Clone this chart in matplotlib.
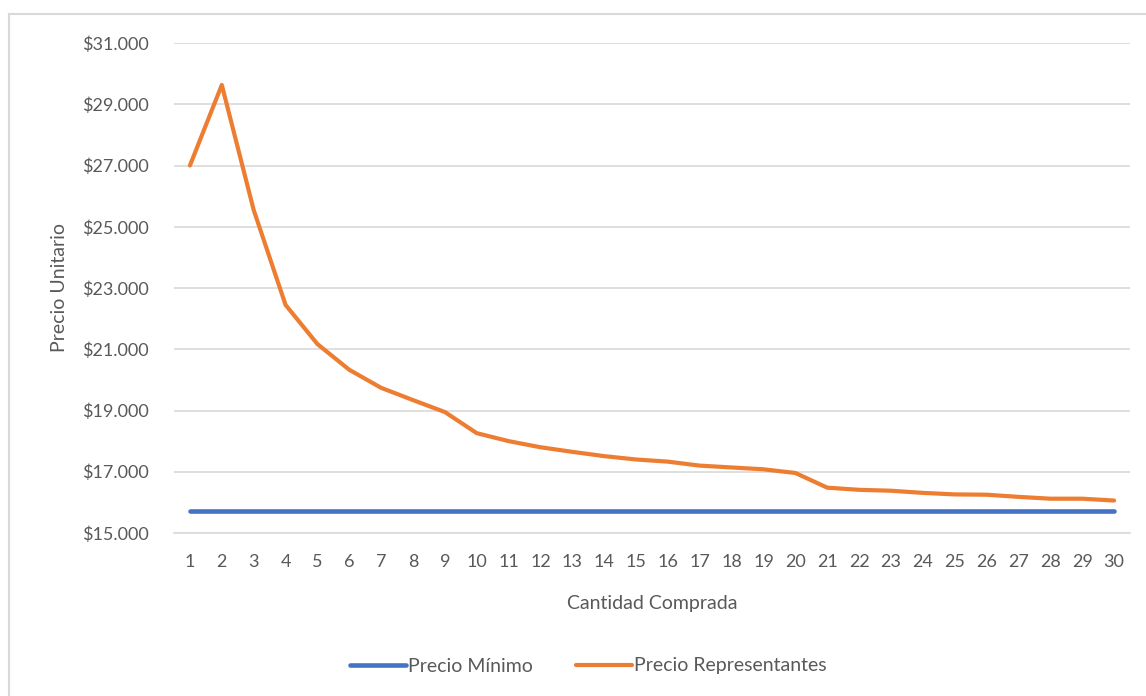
import matplotlib
matplotlib.use('Agg')
import matplotlib.pyplot as plt
from matplotlib.lines import Line2D
from matplotlib.ticker import FuncFormatter
import numpy as np

# data
cantidad = list(range(1, 31))
precio_minimo = [15720] * 30
precio_representantes = [27000, 29630, 25550, 22450, 21170, 20330, 19740, 19340, 18950, 18260,
                         18000, 17800, 17650, 17510, 17400, 17330, 17200, 17140, 17080, 16960,
                         16480, 16410, 16380, 16310, 16260, 16250, 16180, 16120, 16120, 16060]
y_ticks = list(range(15000, 31001, 2000))

plt.rcParams['font.family'] = ['Lato', 'DejaVu Sans']
gray = '#595959'

fig = plt.figure(figsize=(11.46, 6.96), dpi=100)
ax = fig.add_axes([174/1146, 1 - 533/696, (1130-174)/1146, (533-43)/696])

# chart area border (only top and left visible in the reference)
x0, y0 = 9/1146, 1 - 14/696
fig.lines.append(Line2D([x0, 1.0], [y0, y0], transform=fig.transFigure, color='#D9D9D9', linewidth=1.5))
fig.lines.append(Line2D([x0, x0], [0, y0], transform=fig.transFigure, color='#D9D9D9', linewidth=1.5))

ax.plot(cantidad, precio_minimo, color='#4472C4', linewidth=3.3, solid_capstyle='round',
        label='Precio Mínimo', zorder=3)
ax.plot(cantidad, precio_representantes, color='#ED7D31', linewidth=3.0, solid_capstyle='round',
        solid_joinstyle='round', label='Precio Representantes', zorder=4)

ax.set_xlim(0.5, 30.5)
ax.set_ylim(15000, 31000)
ax.set_xticks(cantidad)
ax.set_yticks(y_ticks)
ax.yaxis.set_major_formatter(FuncFormatter(lambda v, p: '$' + f'{int(v):,}'.replace(',', '.')))
ax.grid(axis='y', color='#D9D9D9', linewidth=1.2)
ax.set_axisbelow(True)
for s in ['top', 'right', 'left']:
    ax.spines[s].set_visible(False)
ax.spines['bottom'].set_color('#D9D9D9')
ax.spines['bottom'].set_linewidth(1.2)
ax.tick_params(axis='both', length=0, colors=gray, labelsize=13)
ax.tick_params(axis='y', pad=18)
ax.tick_params(axis='x', pad=15)

ax.set_xlabel('Cantidad Comprada', color=gray, fontsize=14, labelpad=18)
ax.set_ylabel('Precio Unitario', color=gray, fontsize=14, labelpad=10)

leg = fig.legend(loc='center', bbox_to_anchor=(588/1146, 1 - 666/696), ncol=2, frameon=False,
                 fontsize=14, handlelength=2.9, handletextpad=0.1, columnspacing=2.2)
for t in leg.get_texts():
    t.set_color(gray)

fig.savefig('out.png', dpi=100)
